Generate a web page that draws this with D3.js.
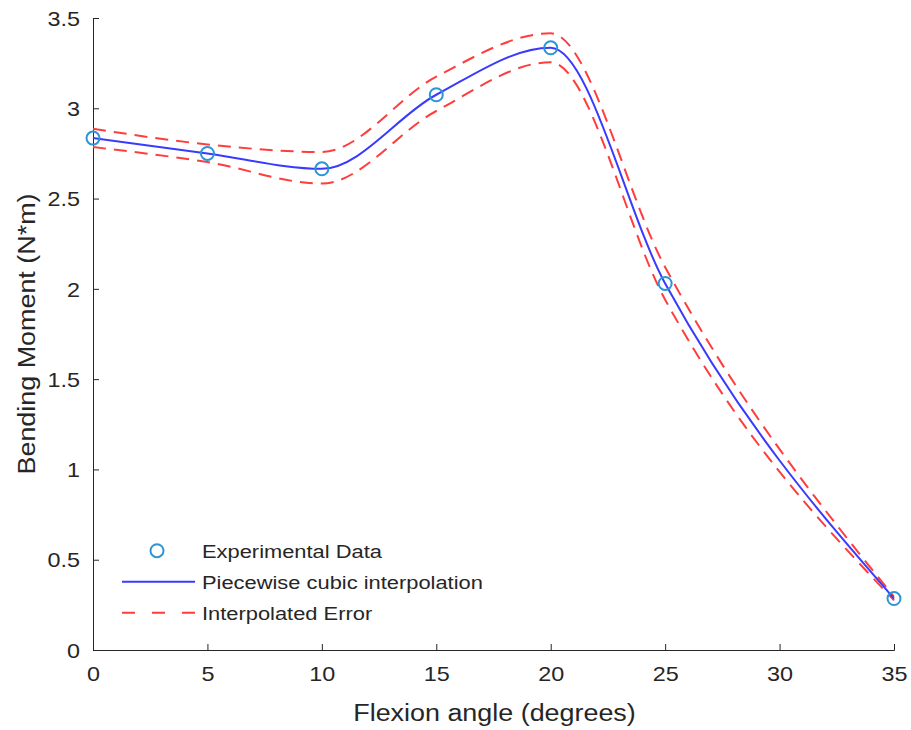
<!DOCTYPE html>
<html>
<head>
<meta charset="utf-8">
<script src="https://cdn.jsdelivr.net/npm/d3@7"></script>
<style>
  body { margin: 0; background: #fff; }
  svg { font-family: "Liberation Sans", Arial, Helvetica, sans-serif; }
</style>
</head>
<body>
<div id="chart"></div>
<script>
// measured data (flexion angle in degrees, bending moment in N*m)
const angles = [0, 5, 10, 15, 20, 25, 35];
const moments = [2.835, 2.75, 2.665, 3.075, 3.335, 2.03, 0.285];
const upperErr = [2.887, 2.80, 2.758, 3.175, 3.415, 2.12, 0.295];
const lowerErr = [2.785, 2.702, 2.583, 2.985, 3.255, 1.94, 0.275];

const xTicks = [0, 5, 10, 15, 20, 25, 30, 35];
const yTicks = [0, 0.5, 1, 1.5, 2, 2.5, 3, 3.5];
const legendLabels = ["Experimental Data", "Piecewise cubic interpolation", "Interpolated Error"];

const width = 911, height = 730;
const margin = { top: 18, right: 17, bottom: 80, left: 93 };
const textColor = "#262626";
const sx = 1.17; // the original glyphs are a bit wider than Liberation Sans

const svg = d3.select("#chart")
  .append("svg")
  .attr("width", width)
  .attr("height", height);

const x = d3.scaleLinear()
  .domain([0, 35])
  .range([margin.left, width - margin.right]);

const y = d3.scaleLinear()
  .domain([0, 3.5])
  .range([height - margin.bottom, margin.top]);

// axes, MATLAB style: ticks point inwards, no box
const xAxis = svg.append("g")
  .attr("transform", `translate(0,${y(0)})`)
  .call(d3.axisBottom(x).tickValues(xTicks).tickSize(-6).tickPadding(17).tickSizeOuter(-6));

const yAxis = svg.append("g")
  .attr("transform", `translate(${x(0)},0)`)
  .call(d3.axisLeft(y).tickValues(yTicks).tickFormat(d3.format("~g")).tickSize(-6).tickPadding(11).tickSizeOuter(-6));

[xAxis, yAxis].forEach(ax => {
  ax.selectAll(".domain, .tick line").attr("stroke", textColor);
  ax.selectAll(".tick text")
    .attr("fill", textColor)
    .attr("font-size", 20)
    .attr("transform", `scale(${sx},1)`);
});
yAxis.selectAll(".tick text").attr("dy", "0.36em");

// axis labels
svg.append("text")
  .attr("transform", `translate(${(x(0) + x(35)) / 2 + 1},${height - 9}) scale(${sx},1)`)
  .attr("text-anchor", "middle")
  .attr("font-size", 23)
  .attr("fill", textColor)
  .text("Flexion angle (degrees)");

svg.append("text")
  .attr("transform", `translate(35,${(y(0) + y(3.5)) / 2}) rotate(-90) scale(${sx},1)`)
  .attr("text-anchor", "middle")
  .attr("font-size", 23)
  .attr("fill", textColor)
  .text("Bending Moment (N*m)");

// curves
const curveLine = vals => d3.line()
  .x((d, i) => x(angles[i]))
  .y(d => y(d))
  .curve(d3.curveMonotoneX)(vals);

[upperErr, lowerErr].forEach(vals => {
  svg.append("path")
    .attr("d", curveLine(vals))
    .attr("fill", "none")
    .attr("stroke", "#ff3d3d")
    .attr("stroke-width", 2)
    .attr("stroke-dasharray", "13,8");
});

svg.append("path")
  .attr("d", curveLine(moments))
  .attr("fill", "none")
  .attr("stroke", "#3a3aff")
  .attr("stroke-width", 2);

svg.selectAll("circle.pt")
  .data(angles)
  .join("circle")
  .attr("class", "pt")
  .attr("cx", d => x(d))
  .attr("cy", (d, i) => y(moments[i]))
  .attr("r", 6.5)
  .attr("fill", "none")
  .attr("stroke", "#2b95d6")
  .attr("stroke-width", 2);

// legend, no box
const legend = svg.append("g")
  .attr("transform", `translate(${x(0) + 29},${y(0.55)})`);

legend.append("circle")
  .attr("cx", 35).attr("cy", 0).attr("r", 6.5)
  .attr("fill", "none").attr("stroke", "#2b95d6").attr("stroke-width", 2);

legend.append("line")
  .attr("x1", 0).attr("x2", 73).attr("y1", 31).attr("y2", 31)
  .attr("stroke", "#3a3aff").attr("stroke-width", 2);

legend.append("line")
  .attr("x1", 0).attr("x2", 73).attr("y1", 62).attr("y2", 62)
  .attr("stroke", "#ff3d3d").attr("stroke-width", 2)
  .attr("stroke-dasharray", "13,17");

legend.selectAll("text")
  .data(legendLabels)
  .join("text")
  .attr("transform", (d, i) => `translate(80,${i * 31 + 7}) scale(${sx},1)`)
  .attr("font-size", 18.7)
  .attr("fill", textColor)
  .text(d => d);
</script>
</body>
</html>
